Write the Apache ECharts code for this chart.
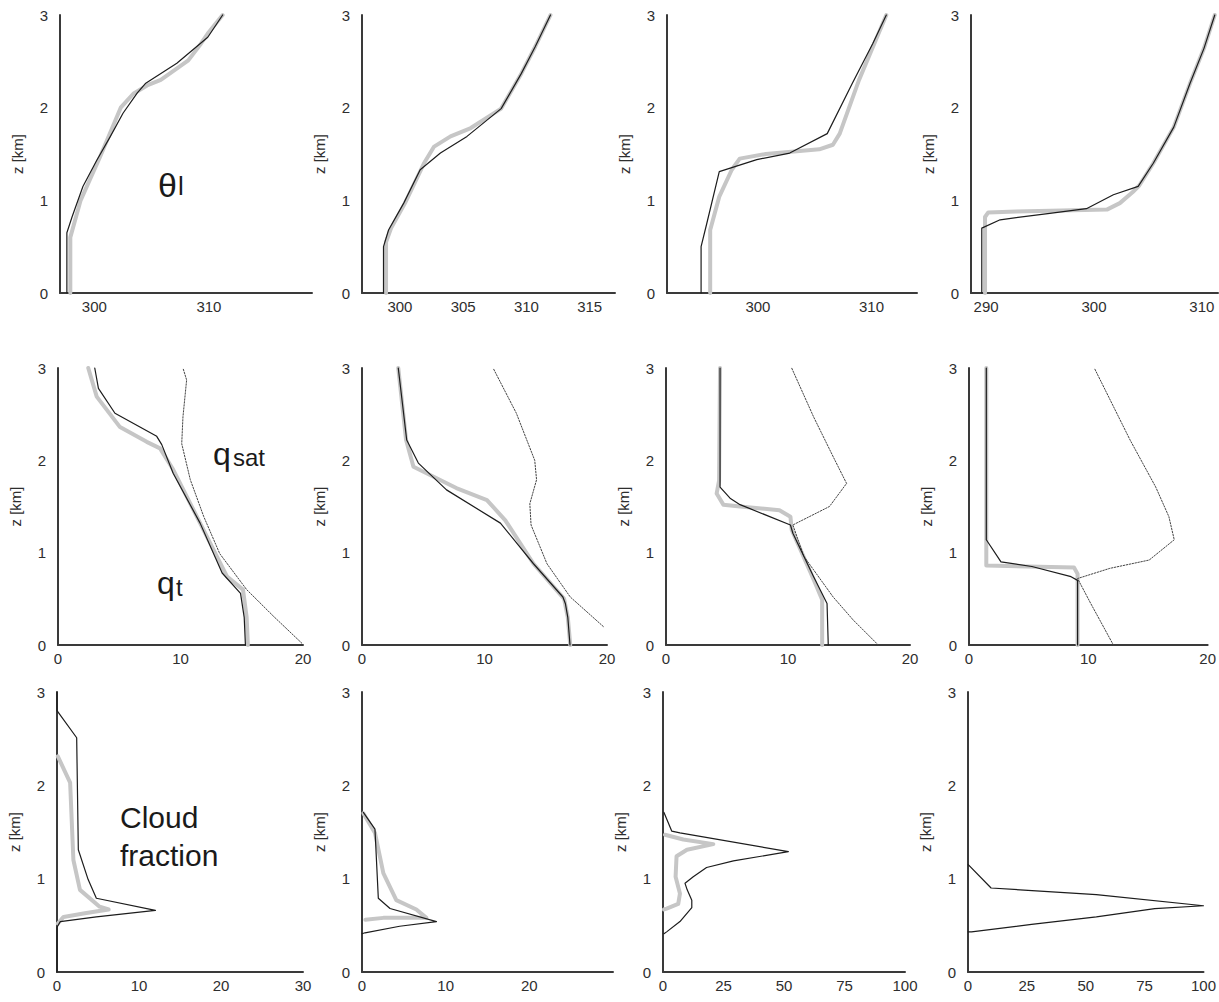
<!DOCTYPE html>
<html>
<head>
<meta charset="utf-8">
<script src="https://cdn.jsdelivr.net/npm/echarts@6/dist/echarts.min.js"></script>
<style>
  html, body { margin: 0; padding: 0; background: #fff; }
  #chart { width: 1219px; height: 1002px; }
</style>
</head>
<body>
<div id="chart"></div>
<script>
// Profiles are [value, height in km]. "Ref" = thick grey curve, "Model" = thin black curve.

// Row 1: liquid water potential temperature theta_l [K]
const theta1Ref   = [[297.9,0],[297.9,0.6],[298.8,1.0],[300.5,1.47],[302.3,2.0],[303.4,2.15],[304.6,2.24],[305.8,2.30],[308.2,2.51],[309.3,2.69],[309.9,2.80],[311.2,3.0]];
const theta1Model = [[297.6,0],[297.6,0.65],[298.05,0.82],[299.0,1.15],[300.2,1.43],[301.4,1.69],[302.5,1.94],[303.75,2.16],[304.45,2.26],[307.2,2.48],[309.9,2.76],[311.2,3.0]];
const theta2Ref   = [[298.9,0],[298.9,0.55],[299.3,0.7],[300.4,0.97],[301.9,1.40],[302.7,1.58],[304.0,1.69],[305.6,1.78],[308.0,1.99],[309.6,2.37],[310.7,2.66],[311.9,3.0]];
const theta2Model = [[298.7,0],[298.7,0.5],[299.1,0.68],[300.3,0.97],[301.6,1.33],[303.2,1.51],[305.3,1.69],[308.0,1.99],[309.6,2.37],[310.7,2.66],[311.9,3.0]];
const theta3Ref   = [[295.8,0],[295.8,0.68],[296.6,1.04],[297.7,1.33],[298.4,1.45],[300.7,1.50],[305.4,1.55],[306.6,1.60],[307.2,1.72],[308.9,2.30],[311.3,3.0]];
const theta3Model = [[295.0,0],[295.0,0.5],[295.5,0.75],[296.6,1.31],[299.9,1.44],[302.8,1.51],[306.1,1.72],[308.3,2.26],[310.1,2.69],[311.3,3.0]];
const theta4Ref   = [[289.9,0],[289.9,0.82],[290.2,0.87],[292.8,0.88],[301.2,0.90],[302.4,0.97],[303.6,1.09],[304.2,1.16],[305.5,1.40],[307.4,1.79],[308.9,2.26],[310.2,2.64],[311.2,3.0]];
const theta4Model = [[289.6,0],[289.6,0.70],[291.3,0.79],[295.9,0.86],[299.3,0.91],[301.8,1.06],[304.1,1.15],[305.5,1.40],[307.4,1.79],[308.9,2.26],[310.2,2.64],[311.2,3.0]];

// Row 2: total water q_t and saturation specific humidity q_sat [g/kg]
const qt1Ref   = [[15.5,0],[15.4,0.3],[15.1,0.60],[13.8,0.74],[11.6,1.32],[9.4,1.90],[8.33,2.13],[7.24,2.20],[5.06,2.36],[3.16,2.69],[2.47,3.0]];
const qt1Model = [[15.3,0],[15.2,0.3],[14.9,0.56],[13.4,0.78],[11.6,1.32],[9.4,1.86],[8.47,2.17],[8.06,2.26],[4.65,2.51],[3.3,2.78],[3.0,3.0]];
const qsat1    = [[19.9,0.02],[17.6,0.31],[15.4,0.60],[13.2,0.99],[11.9,1.39],[10.8,1.79],[10.1,2.18],[10.2,2.47],[10.5,2.87],[10.2,3.0]];
const qt2Ref   = [[17.0,0],[16.8,0.3],[16.5,0.5],[14.0,0.88],[11.7,1.35],[10.2,1.57],[7.7,1.70],[4.2,1.93],[3.6,2.22],[2.96,3.0]];
const qt2Model = [[16.98,0],[16.8,0.3],[16.6,0.45],[16.4,0.52],[14.0,0.88],[11.3,1.32],[6.9,1.68],[4.6,1.97],[3.65,2.22],[2.96,3.0]];
const qsat2    = [[19.7,0.20],[17.0,0.52],[15.1,0.88],[13.8,1.30],[13.7,1.53],[14.25,1.79],[14.1,2.0],[12.6,2.51],[10.7,3.0]];
const qt3Ref   = [[12.8,0],[12.8,0.49],[12.1,0.71],[10.3,1.25],[10.2,1.39],[9.3,1.46],[6.07,1.50],[4.7,1.52],[4.15,1.64],[4.35,1.78],[4.43,3.0]];
const qt3Model = [[13.3,0],[13.2,0.45],[12.1,0.74],[10.4,1.21],[10.2,1.30],[6.07,1.52],[5.25,1.59],[4.43,1.71],[4.43,3.0]];
const qsat3    = [[17.4,0],[15.35,0.27],[13.7,0.52],[11.3,0.96],[10.4,1.30],[13.4,1.50],[14.8,1.75],[13.7,2.04],[12.1,2.47],[10.3,3.0]];
const qt4Ref   = [[9.1,0],[9.1,0.77],[8.8,0.84],[1.45,0.86],[1.45,0.88],[1.45,3.0]];
const qt4Model = [[9.1,0],[9.1,0.70],[8.55,0.74],[5.27,0.85],[2.68,0.90],[1.45,1.14],[1.45,3.0]];
const qsat4    = [[12.1,0],[10.2,0.45],[9.1,0.72],[11.8,0.83],[15.1,0.92],[17.2,1.14],[16.75,1.39],[15.65,1.71],[13.5,2.22],[10.5,3.0]];

// Row 3: cloud fraction [%]
const cf1Ref   = [[0.1,0.52],[0.8,0.59],[3.4,0.63],[6.3,0.67],[5.2,0.70],[2.8,0.88],[2.0,1.20],[1.6,2.03],[0.1,2.31]];
const cf1Model = [[0,0],[0,0.48],[0.4,0.54],[4.8,0.59],[12.0,0.66],[4.8,0.79],[3.8,0.99],[2.6,1.31],[2.4,2.51],[0,2.80],[0,3]];
const cf2Ref   = [[0.4,0.56],[2.55,0.58],[7.7,0.58],[6.5,0.67],[4.1,0.77],[2.55,1.06],[1.55,1.49],[0.16,1.70]];
const cf2Model = [[0,0.41],[0.36,0.42],[4.5,0.49],[8.9,0.54],[3.35,0.68],[1.95,0.79],[1.55,1.53],[0.16,1.71]];
const cf3Ref   = [[0.4,0.67],[1.5,0.68],[6.3,0.73],[7.0,0.84],[5.2,1.02],[5.6,1.24],[9.9,1.31],[20.8,1.37],[8.4,1.42],[0.8,1.47]];
const cf3Model = [[0.4,0.41],[1.5,0.43],[7.0,0.54],[11.9,0.69],[11.9,0.77],[10,0.88],[9.1,0.95],[12.5,1.02],[18.0,1.12],[29.1,1.19],[51.8,1.29],[7.0,1.49],[3.6,1.51],[0.4,1.71]];
const cf4Model = [[0.1,0.43],[1.5,0.43],[27,0.51],[54.5,0.59],[79.3,0.68],[100,0.71],[54.5,0.83],[9.8,0.90],[0.1,1.15]];

// Axis tick labels
const heightTicks = [0, 1, 2, 3];
const thetaTicks = [[300, 310], [300, 305, 310, 315], [300, 310], [290, 300, 310]];
const qTicks = [0, 10, 20];
const cloudTicks = [[0, 10, 20, 30], [0, 10, 20], [0, 25, 50, 75, 100], [0, 25, 50, 75, 100]];

// Panel placement (pixels) and x ranges
const rows = [
  { top: 15,  height: 278, cells: [[60, 252], [362, 253], [667, 250], [971, 247]],
    ranges: [[297, 319], [297, 317], [292, 314], [288.6, 311.5]] },
  { top: 368, height: 277, cells: [[58, 245], [362, 245], [666, 244], [969, 244]],
    ranges: [[0, 20], [0, 20], [0, 20], [0, 20]] },
  { top: 692, height: 280, cells: [[57, 246], [362, 251], [663, 242], [968, 242]],
    ranges: [[0, 30], [0, 30], [0, 100], [0, 100]] }
];

const panelSeries = [
  [[theta1Ref, theta1Model], [theta2Ref, theta2Model], [theta3Ref, theta3Model], [theta4Ref, theta4Model]],
  [[qt1Ref, qt1Model, qsat1], [qt2Ref, qt2Model, qsat2], [qt3Ref, qt3Model, qsat3], [qt4Ref, qt4Model, qsat4]],
  [[cf1Ref, cf1Model], [cf2Ref, cf2Model], [cf3Ref, cf3Model], [null, cf4Model]]
];
const panelTicks = [thetaTicks, [qTicks, qTicks, qTicks, qTicks], cloudTicks];

const FONT = "'Liberation Sans', Arial, Helvetica, sans-serif";
const AXIS_COLOR = '#3a3a3a';
const lineKinds = [
  { color: '#c6c6c6', width: 4, type: 'solid', z: 2 },
  { color: '#1c1c1c', width: 1.2, type: 'solid', z: 4 },
  { color: '#444', width: 1, type: [1.5, 1.5], z: 3 }
];

const grid = [], xAxis = [], yAxis = [], series = [];
rows.forEach((row, r) => {
  row.cells.forEach(([left, width], c) => {
    const idx = grid.length;
    grid.push({ left, top: row.top, width, height: row.height, containLabel: false });
    xAxis.push({
      gridIndex: idx, type: 'value', min: row.ranges[c][0], max: row.ranges[c][1],
      axisLine: { onZero: false, lineStyle: { color: AXIS_COLOR, width: 2 } },
      axisTick: { show: false }, splitLine: { show: false },
      axisLabel: { customValues: panelTicks[r][c], margin: 6, color: '#2e2e2e', fontSize: 15, fontFamily: FONT }
    });
    yAxis.push({
      gridIndex: idx, type: 'value', min: 0, max: 3, interval: 1,
      name: 'z [km]', nameLocation: 'middle', nameGap: 35, nameRotate: 90,
      nameTextStyle: { color: '#2e2e2e', fontSize: 15, fontFamily: FONT },
      axisLine: { onZero: false, lineStyle: { color: AXIS_COLOR, width: 2 } },
      axisTick: { show: false }, splitLine: { show: false },
      axisLabel: { customValues: heightTicks, margin: 12, color: '#2e2e2e', fontSize: 15, fontFamily: FONT }
    });
    panelSeries[r][c].forEach((data, k) => {
      if (!data) return;
      const kind = lineKinds[k];
      series.push({
        type: 'line', xAxisIndex: idx, yAxisIndex: idx, data,
        showSymbol: false, symbol: 'none', smooth: false, clip: false, z: kind.z,
        lineStyle: { color: kind.color, width: kind.width, type: kind.type, cap: 'round', join: 'round' },
        silent: true
      });
    });
  });
});

// In-panel annotations
const txt = (x, y, text, size) => ({
  type: 'text', x, y, silent: true,
  style: { text, fontSize: size, fontFamily: FONT, fill: '#1a1a1a', textBaseline: 'alphabetic' }
});
const graphic = [
  txt(158, 168, 'θ', 34), txt(178, 173, 'l', 26),
  txt(213, 438, 'q', 32), txt(233, 445, 'sat', 24),
  txt(157, 567, 'q', 32), txt(176, 575, 't', 24),
  txt(120, 802, 'Cloud', 30), txt(120, 840, 'fraction', 30)
];

const chart = echarts.init(document.getElementById('chart'), null, { renderer: 'svg' });
chart.setOption({ animation: false, backgroundColor: '#fff', grid, xAxis, yAxis, series, graphic });
</script>
</body>
</html>
